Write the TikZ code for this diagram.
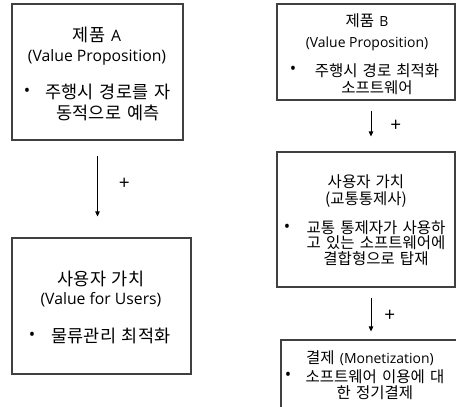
\documentclass[tikz,border=0pt]{standalone}
\usepackage{fontspec}
\setmainfont[WordSpace=1.5]{Noto Sans CJK KR}
\newfontfamily\latA[Scale=0.9]{Open Sans}
\newfontfamily\latB[Scale=0.9]{Open Sans}
\newfontfamily\latC{Open Sans}
\usetikzlibrary{arrows.meta}
\definecolor{boxgray}{RGB}{64,64,64}
\newcommand{\la}[1]{{\latA #1}}
\newcommand{\lb}[1]{{\latB #1}}
\tikzset{
  bx/.style={draw=boxgray, line width=1.1pt, inner sep=0pt},
  txA/.style={font=\fontsize{17.5}{#1}\selectfont, align=center, inner sep=0pt},
  txB/.style={font=\fontsize{15.5}{#1}\selectfont, align=center, inner sep=0pt},
  dot/.style={font=\latC\fontsize{17}{17}\selectfont, inner sep=0pt},
  plus/.style={font=\latC\fontsize{19}{19}\selectfont, inner sep=0pt},
  arr/.style={-{Triangle[length=5pt, width=4.5pt]}, line width=0.8pt},
}

\begin{document}
\begin{tikzpicture}[x=1pt, y=-1pt]
    \useasboundingbox (0,0) rectangle (456,407);
    \clip (0,0) rectangle (456,407);

    % ── LEFT: PRODUCT A ─────────────────────────────────────
    \node[bx, minimum width=171pt, minimum height=136pt] (prodA) at (97.5,72) {};
    \node[txA=20] (titleA) at (97,46) {제품 \la{A}\\\la{(Value Proposition)}};
    \node[dot] (dotA) at (27,92) {•};
    \node[txA=21] (itemA) at (108,102.5) {주행시 경로를 자\\동적으로 예측};

    % user value A
    \node[bx, minimum width=179pt, minimum height=136pt] (userA) at (101.5,306) {};
    \node[txA=19] (titleUA) at (101,289.5) {사용자 가치\\\la{(Value for Users)}};
    \node[dot] (dotUA) at (32,336) {•};
    \node[txA=21] (itemUA) at (111,336) {물류관리 최적화};

    \draw[arr, shorten <=15pt, shorten >=21pt] (prodA.south) -- (prodA.south |- userA.north)
      node[plus, pos=0.45, right=21pt] (plusA) {+};

    % ── RIGHT: PRODUCT B ────────────────────────────────────
    \node[bx, minimum width=178pt, minimum height=96pt] (prodB) at (366,52) {};
    \node[txB=21] (titleB) at (367,32.5) {제품 \lb{B}\\\lb{(Value Proposition)}};
    \node[dot] (dotB) at (293,70.5) {•};
    \node[txB=16.5] (itemB) at (377,79) {주행시 경로 최적화\\소프트웨어};

    % user value B
    \node[bx, minimum width=178pt, minimum height=135pt] (userB) at (366,219.5) {};
    \node[txB=17] (titleUB) at (366,191.5) {사용자 가치\\(교통통제사)};
    \node[dot] (dotUB) at (287,228) {•};
    \node[txB=15.5] (itemUB) at (376,243) {교통 통제자가 사용하\\고 있는 소프트웨어에\\결합형으로 탑재};

    % monetization
    \node[bx, minimum width=184pt, minimum height=80pt] (pay) at (373,380) {};
    \node[txB=17] (titlePay) at (370,358) {결제 \lb{(Monetization)}};
    \node[dot] (dotPay) at (288,376) {•};
    \node[txB=16.5] (itemPay) at (375,384.5) {소프트웨어 이용에 대\\한 정기결제};

    \draw[arr, shorten <=10pt, shorten >=15pt] ([xshift=5pt]prodB.south) -- ([xshift=5pt]prodB.south |- userB.north)
      node[plus, pos=0.5, right=19pt] (plusB) {+};
    \draw[arr, shorten <=10pt, shorten >=8pt] ([xshift=5pt]userB.south) -- ([xshift=5pt]userB.south |- pay.north)
      node[plus, pos=0.55, right=13pt] (plusC) {+};
\end{tikzpicture}
\end{document}
